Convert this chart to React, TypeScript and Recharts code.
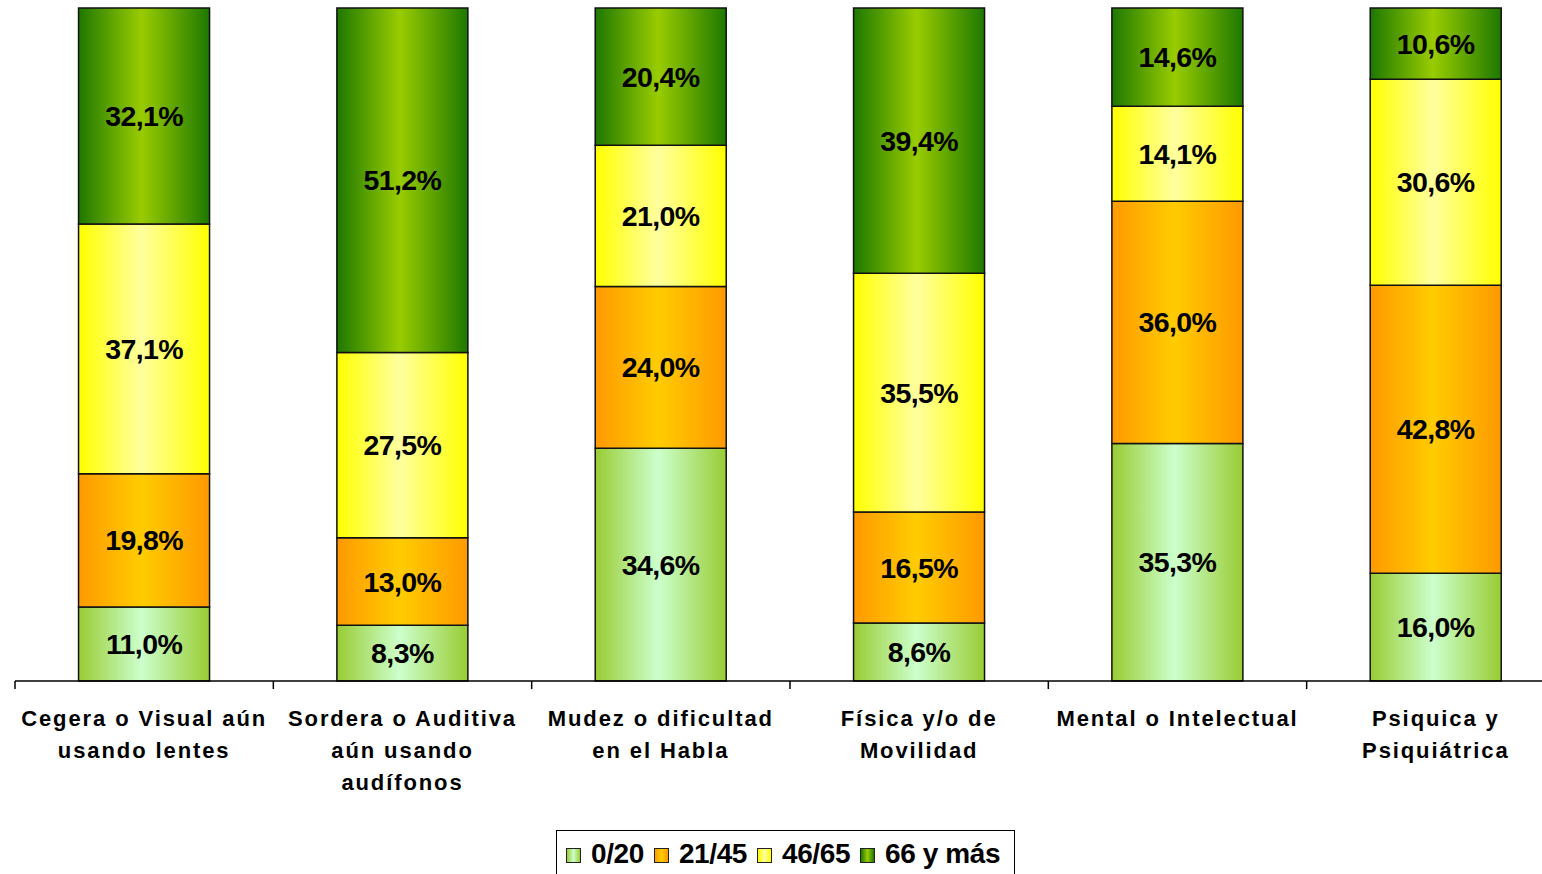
import React from "react";
import { BarChart, Bar, XAxis, YAxis, LabelList } from "recharts";

const categories = [
  "Cegera o Visual aún\nusando lentes",
  "Sordera o Auditiva\naún usando\naudífonos",
  "Mudez o dificultad\nen el Habla",
  "Física y/o de\nMovilidad",
  "Mental o Intelectual",
  "Psiquica y\nPsiquiátrica",
];
const seriesNames = ["0/20", "21/45", "46/65", "66 y más"];
const age0to20 = [11.0, 8.3, 34.6, 8.6, 35.3, 16.0];
const age21to45 = [19.8, 13.0, 24.0, 16.5, 36.0, 42.8];
const age46to65 = [37.1, 27.5, 21.0, 35.5, 14.1, 30.6];
const age66plus = [32.1, 51.2, 20.4, 39.4, 14.6, 10.6];

const keys = ["a", "b", "c", "d"];
const gradients = [
  { id: "g0", edge: "#99cc33", center: "#ccffcc" },
  { id: "g1", edge: "#ff9900", center: "#ffcc00" },
  { id: "g2", edge: "#ffff00", center: "#ffff9f" },
  { id: "g3", edge: "#1e7800", center: "#99cc00" },
];

const data = categories.map((c, i) => ({
  name: c,
  a: age0to20[i],
  b: age21to45[i],
  c: age46to65[i],
  d: age66plus[i],
}));

const CHART_W = 1580;
const CHART_H = 874;
const MARGIN = { top: 8, right: 15, left: 15, bottom: 0 };
const BAND = (CHART_W - MARGIN.left - MARGIN.right) / categories.length;
const FONT = "'Liberation Sans', Arial, Helvetica, sans-serif";

const fmt = (v: any) => `${Number(v).toFixed(1).replace(".", ",")}%`;

const Tick = (props: any) => {
  const { x, y, payload, index } = props;
  const lines = String(payload.value).split("\n");
  const left = x - BAND / 2;
  return (
    <g>
      <line x1={left} y1={y} x2={left} y2={y + 8} stroke="#000" strokeWidth={1.5} />
      {index === categories.length - 1 && (
        <line x1={left + BAND} y1={y} x2={left + BAND} y2={y + 8} stroke="#000" strokeWidth={1.5} />
      )}
      <text
        x={x}
        y={y + 45}
        textAnchor="middle"
        fontFamily={FONT}
        fontWeight="bold"
        fontSize={22}
        letterSpacing={1.9}
        fill="#000"
      >
        {lines.map((l, i) => (
          <tspan key={i} x={x} dy={i === 0 ? 0 : 32}>
            {l}
          </tspan>
        ))}
      </text>
    </g>
  );
};

export default function App() {
  return (
    <div
      style={{
        position: "absolute",
        left: 0,
        top: 0,
        width: 1542,
        height: 874,
        overflow: "hidden",
        background: "#fff",
      }}
    >
      <BarChart width={CHART_W} height={CHART_H} data={data} margin={MARGIN} barCategoryGap="24.6%">
        <defs>
          {gradients.map((g) => (
            <linearGradient key={g.id} id={g.id} x1="0" y1="0" x2="1" y2="0">
              <stop offset="0%" stopColor={g.edge} />
              <stop offset="48%" stopColor={g.center} />
              <stop offset="100%" stopColor={g.edge} />
            </linearGradient>
          ))}
        </defs>
        <XAxis
          dataKey="name"
          interval={0}
          height={193}
          tickSize={0}
          tickMargin={0}
          tickLine={false}
          axisLine={{ stroke: "#000", strokeWidth: 1.5 }}
          tick={<Tick />}
        />
        <YAxis hide domain={[0, 100]} />
        {keys.map((k, i) => (
          <Bar
            key={k}
            dataKey={k}
            name={seriesNames[i]}
            stackId="s"
            fill={`url(#${gradients[i].id})`}
            stroke="#111"
            strokeWidth={1.5}
            isAnimationActive={false}
          >
            <LabelList
              dataKey={k}
              position="center"
              formatter={fmt}
              fill="#000"
              fontFamily={FONT}
              fontWeight="bold"
              fontSize={28.5}
              letterSpacing={-0.6}
            />
          </Bar>
        ))}
      </BarChart>
      <div
        style={{
          position: "absolute",
          left: 556,
          top: 830,
          width: 459,
          height: 60,
          border: "1.5px solid #000",
          boxSizing: "border-box",
          display: "flex",
          alignItems: "flex-start",
          paddingTop: 7,
          paddingLeft: 9,
          fontFamily: FONT,
          fontWeight: "bold",
          fontSize: 28,
          letterSpacing: -0.4,
          color: "#000",
          lineHeight: "32px",
        }}
      >
        {seriesNames.map((n, i) => (
          <div key={n} style={{ display: "flex", alignItems: "center", marginRight: 10 }}>
            <div
              style={{
                width: 13,
                height: 13,
                border: "1.5px solid #222",
                background: `linear-gradient(to right, ${gradients[i].edge}, ${gradients[i].center}, ${gradients[i].edge})`,
                marginRight: 10,
                marginTop: 2,
              }}
            />
            <span>{n}</span>
          </div>
        ))}
      </div>
    </div>
  );
}
